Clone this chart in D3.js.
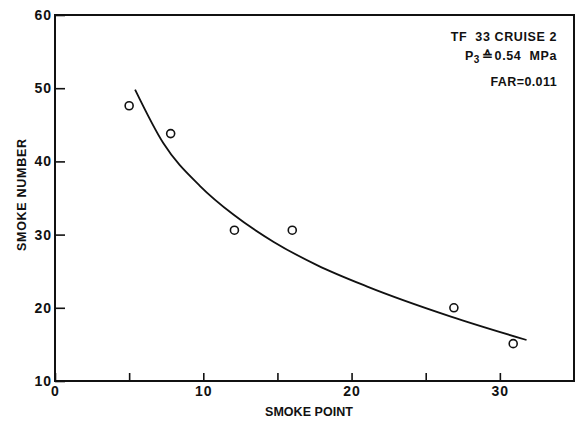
<!DOCTYPE html>
<html>
<head>
<meta charset="utf-8">
<script src="https://cdn.jsdelivr.net/npm/d3@7"></script>
<style>
  html, body { margin: 0; padding: 0; background: #fff; }
  svg text { font-family: "Liberation Sans", Arial, sans-serif; fill: #111; white-space: pre; }
</style>
</head>
<body>
<svg id="chart" width="578" height="421"></svg>
<script>
// Measured smoke numbers against fuel smoke point
const smokePoint  = [5.0, 7.8, 12.1, 16.0, 26.9, 30.9];
const smokeNumber = [47.6, 43.8, 30.6, 30.6, 20.0, 15.1];

// Faired trend curve through the data
const curveX = [5.4, 7.3, 9.8, 12.05, 14.75, 17.7, 21.06, 26.7, 31.8];
const curveY = [49.8, 42.5, 36.6, 32.7, 29.0, 25.8, 22.9, 18.8, 15.6];

const xTicks = [0, 5, 10, 15, 20, 25, 30];
const xTickLabels = [0, 10, 20, 30];
const yTicks = [10, 20, 30, 40, 50, 60];

const notes = ["TF  33 CRUISE 2", "0.54  MPa", "FAR=0.011"];

const svg = d3.select("#chart");
const plotL = 55, plotR = 574, plotT = 15, plotB = 381;

const x = d3.scaleLinear().domain([0, 35]).range([plotL, plotR]);
const y = d3.scaleLinear().domain([10, 60]).range([plotB, plotT]);

const ink = "#111";

// Frame
svg.append("rect")
  .attr("x", plotL).attr("y", plotT)
  .attr("width", plotR - plotL).attr("height", plotB - plotT)
  .attr("fill", "none").attr("stroke", ink).attr("stroke-width", 2);

// X axis: inward ticks every 5, labels every 10
const xAxis = d3.axisBottom(x).tickValues(xTicks).tickSizeInner(-8).tickSizeOuter(0)
  .tickFormat(d => xTickLabels.includes(d) ? d : "");
const gx = svg.append("g").attr("transform", `translate(0,${plotB})`).call(xAxis);
gx.select(".domain").remove();
gx.selectAll(".tick line").attr("stroke", ink).attr("stroke-width", 1.6);
gx.selectAll(".tick text").attr("y", 5).attr("dy", "0.71em")
  .attr("font-size", 14).attr("font-weight", "bold").attr("letter-spacing", 1).attr("fill", ink);

// Y axis: inward ticks every 10
const yAxis = d3.axisLeft(y).tickValues(yTicks).tickSizeInner(-10).tickSizeOuter(0);
const gy = svg.append("g").attr("transform", `translate(${plotL},0)`).call(yAxis);
gy.select(".domain").remove();
gy.selectAll(".tick line").attr("stroke", ink).attr("stroke-width", 1.6);
gy.selectAll(".tick text").attr("x", -3).attr("font-size", 14)
  .attr("font-weight", "bold").attr("letter-spacing", 1).attr("fill", ink);

// Axis titles
svg.append("text")
  .attr("x", 309).attr("y", 416)
  .attr("text-anchor", "middle").attr("font-size", 12.5).attr("font-weight", "bold")
  .attr("textLength", 88).attr("lengthAdjust", "spacing")
  .text("SMOKE POINT");
svg.append("text")
  .attr("transform", "translate(26,195) rotate(-90)")
  .attr("text-anchor", "middle").attr("font-size", 12.5).attr("font-weight", "bold")
  .attr("textLength", 112).attr("lengthAdjust", "spacing")
  .text("SMOKE NUMBER");

// Trend curve
const line = d3.line().x(d => x(d)).y((d, i) => y(curveY[i])).curve(d3.curveMonotoneX);
svg.append("path").datum(curveX)
  .attr("d", line).attr("fill", "none").attr("stroke", ink).attr("stroke-width", 1.8);

// Data points
svg.append("g").selectAll("circle").data(smokePoint).join("circle")
  .attr("cx", d => x(d)).attr("cy", (d, i) => y(smokeNumber[i]))
  .attr("r", 4).attr("fill", "#fff").attr("stroke", ink).attr("stroke-width", 1.6);

// Test condition notes
const nt = svg.append("g").attr("font-size", 12.5).attr("font-weight", "bold")
  .attr("text-anchor", "end");
nt.append("text").attr("x", 557).attr("y", 41)
  .attr("letter-spacing", 0.6).text(notes[0]);
const p = nt.append("text").attr("x", 557).attr("y", 60).attr("letter-spacing", 0.6);
p.append("tspan").text("P");
p.append("tspan").attr("dy", 3).attr("font-size", 10).text("3");
p.append("tspan").attr("dy", -3).attr("dx", 2).text("\u2259");
p.append("tspan").attr("dx", 1).text(notes[1]);
nt.append("text").attr("x", 557).attr("y", 86)
  .attr("letter-spacing", 0.4).text(notes[2]);
</script>
</body>
</html>
